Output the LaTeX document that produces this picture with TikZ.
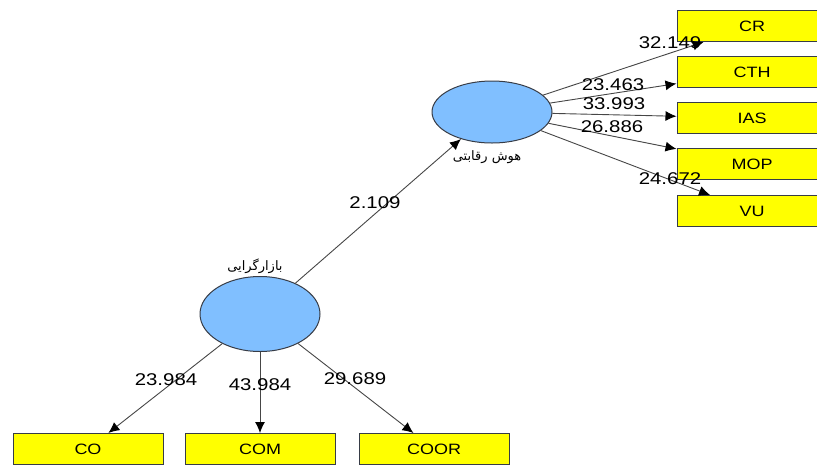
\documentclass[tikz,border=0pt]{standalone}
\usepackage{fontspec}
\setmainfont[FakeStretch=1.2]{Liberation Sans}
\newfontfamily\farsi[Script=Arabic]{DejaVu Sans}
\TeXXeTstate=1
\usetikzlibrary{shapes.geometric, arrows.meta}

\definecolor{amarillo}{RGB}{255,255,0}
\definecolor{celeste}{RGB}{128,191,255}
\definecolor{borde}{RGB}{55,60,70}
\definecolor{linea}{RGB}{70,70,70}

\providecommand{\indicador}[5]{
    \node[caja] (#1) at (#2) {#1};
    \draw[flecha] (#3) -- (#1);
    \node[carga] (c#1) at (#4) {#5};
}

\begin{document}
\begin{tikzpicture}[
    x=1pt, y=-1pt,
    >={Latex[length=11pt, width=10pt, color=black]},
    constructo/.style={draw=borde, ellipse, fill=celeste, line width=1pt, inner sep=0pt, minimum width=120pt},
    caja/.style={draw=borde, rectangle, fill=amarillo, line width=1pt, minimum width=150pt, minimum height=31pt, font=\fontsize{15}{18}\selectfont},
    carga/.style={inner sep=0pt, font=\fontsize{17}{20}\selectfont},
    nombre/.style={inner sep=0pt, font=\farsi\fontsize{13}{15}\selectfont},
    flecha/.style={draw=linea, line width=0.9pt, ->}
]

    \useasboundingbox (0,0) rectangle (817,464);
    \clip (0,0) rectangle (817,464);

    % CONSTRUCTOS
    \node[constructo, minimum height=75pt] (LC) at (260,314) {};
    \node[constructo, minimum height=62pt] (HR) at (492,112) {};
    \node[nombre] (nLC) at (255,266) {\beginR بازارگرایی\endR};
    \node[nombre] (nHR) at (487,157) {\beginR هوش رقابتی\endR};

    % RUTA ESTRUCTURAL
    \draw[flecha] (LC) -- (HR);
    \node[carga] (ruta) at (375,203) {2.109};

    % INDICADORES DE HR
    \indicador{CR}{752,26}{HR}{670,43}{32.149}
    \indicador{CTH}{752,72}{HR}{613,85}{23.463}
    \indicador{IAS}{752,118}{HR}{614,104}{33.993}
    \indicador{MOP}{752,164}{HR}{612,127}{26.886}
    \indicador{VU}{752,211}{HR}{670,179}{24.672}

    % INDICADORES DE LC
    \indicador{CO}{88,449}{LC}{166,380}{23.984}
    \indicador{COM}{260,449}{LC}{260,385}{43.984}
    \indicador{COOR}{434,449}{LC}{355,379}{29.689}

\end{tikzpicture}
\end{document}
